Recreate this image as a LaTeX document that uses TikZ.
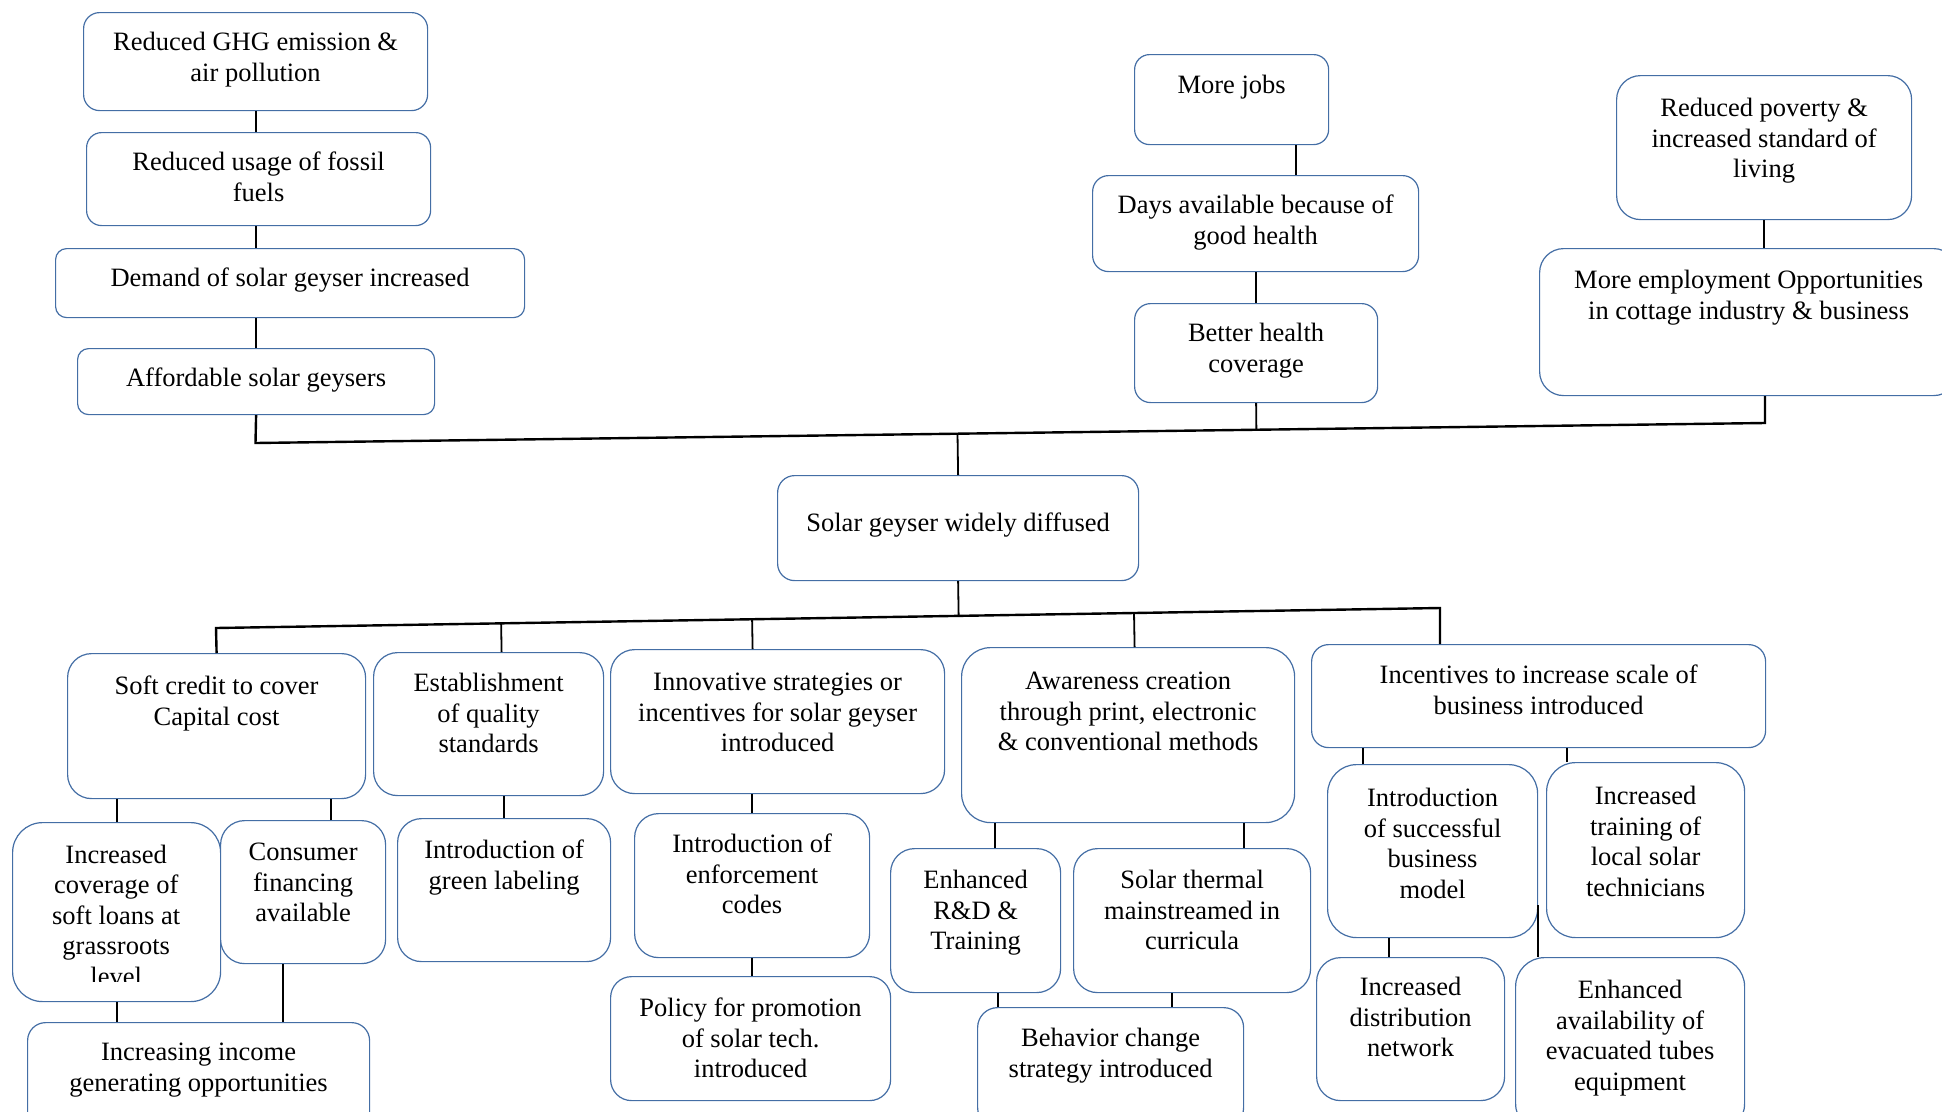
\documentclass[tikz,border=0pt]{standalone}
\usepackage{fontspec}
\setmainfont{Liberation Serif}
\usetikzlibrary{calc}
\definecolor{boxblue}{RGB}{68,110,165}
% box content: width, height, first-baseline offset, text (top aligned, centred)
\newcommand\bxt[4]{\parbox[t][#2pt][t]{#1pt}{\centering\rule{0pt}{#3pt}#4\par}}
\begin{document}
\begin{tikzpicture}[x=1pt,y=-1pt,
  every node/.style={font=\fontsize{26.5pt}{30.5pt}\selectfont},
  box/.style={draw=boxblue, line width=1.2pt, fill=white, inner sep=0pt, anchor=north west},
  txt/.style={inner sep=0pt, anchor=north west},
  link/.style={line width=1.8pt},
  trunk/.style={line width=2.4pt, line join=miter}]
\useasboundingbox (0,0) rectangle (1942,1111);

% outcomes (upper part)
\node[box, rounded corners=16pt] (ghg) at (83,12) {\bxt{344}{98}{38}{Reduced GHG emission \&\\air pollution}};
\node[box, rounded corners=15pt] (fossil) at (86,132) {\bxt{344}{93}{38}{Reduced usage of fossil\\fuels}};
\node[box, rounded corners=11pt] (demand) at (55,248) {\bxt{469}{69}{38}{Demand of solar geyser increased}};
\node[box, rounded corners=11pt] (afford) at (77,348) {\bxt{357}{66}{38}{Affordable solar geysers}};
\node[box, rounded corners=15pt] (jobs) at (1134,54) {\bxt{194}{90}{39}{More jobs}};
\node[box, rounded corners=16pt] (days) at (1092,175) {\bxt{326}{96}{38}{Days available because of\\good health}};
\node[box, rounded corners=16pt] (health) at (1134,303) {\bxt{243}{99}{38}{Better health\\coverage}};
\node[box, rounded corners=24pt] (poverty) at (1616,75) {\bxt{295}{144}{41}{Reduced poverty \&\\increased standard of\\living}};
\node[box, rounded corners=24pt] (employ) at (1539,248) {\bxt{418}{147}{40}{More employment Opportunities\\in cottage industry \& business}};

% central result
\node[box, rounded corners=17pt] (solar) at (777,475) {\bxt{361}{105}{56}{Solar geyser widely diffused}};

% first level of interventions
\node[box, rounded corners=24pt] (soft) at (67,653) {\bxt{298}{145}{41}{Soft credit to cover\\Capital cost}};
\node[box, rounded corners=24pt] (estab) at (373,652) {\bxt{230}{143}{39}{Establishment\\of quality\\standards}};
\node[box, rounded corners=24pt] (innov) at (610,649) {\bxt{334}{144}{41}{Innovative strategies or\\incentives for solar geyser\\introduced}};
\node[box, rounded corners=29pt] (aware) at (961,647) {\bxt{333}{175}{42}{Awareness creation\\through print, electronic\\\& conventional methods}};
\node[box, rounded corners=17pt] (incent) at (1311,644) {\bxt{454}{103}{39}{Incentives to increase scale of\\business introduced}};

% second and third levels
\node[box, rounded corners=30pt] (cov) at (12,822) {\bxt{208}{179}{41}{}};
\begin{scope}
  \clip (cov.north west) rectangle ([yshift=21pt]cov.south east);
  \node[txt] (covtext) at (cov.north west) {\bxt{208}{179}{41}{Increased\\coverage of\\soft loans at\\grassroots\\level}};
\end{scope}
\node[box, rounded corners=24pt] (cons) at (220,820) {\bxt{165}{143}{40}{Consumer\\financing\\available}};
\node[box, rounded corners=24pt] (green) at (397,818) {\bxt{213}{143}{40}{Introduction of\\green labeling}};
\node[box, rounded corners=18pt] (income) at (27,1022) {\bxt{342}{110}{38}{Increasing income\\generating opportunities}};
\node[box, rounded corners=24pt] (enforce) at (634,813) {\bxt{235}{144}{39}{Introduction of\\enforcement\\codes}};
\node[box, rounded corners=21pt] (policy) at (610,976) {\bxt{280}{124}{40}{Policy for promotion\\of solar tech.\\introduced}};
\node[box, rounded corners=24pt] (rnd) at (890,848) {\bxt{170}{144}{40}{Enhanced\\R\&D \&\\Training}};
\node[box, rounded corners=24pt] (thermal) at (1073,848) {\bxt{237}{144}{40}{Solar thermal\\mainstreamed in\\curricula}};
\node[box, rounded corners=20pt] (behav) at (977,1007) {\bxt{266}{120}{39}{Behavior change\\strategy introduced}};
\node[box, rounded corners=29pt] (succ) at (1327,764) {\bxt{210}{173}{42}{Introduction\\of successful\\business\\model}};
\node[box, rounded corners=29pt] (train) at (1546,762) {\bxt{198}{175}{42}{Increased\\training of\\local solar\\technicians}};
\node[box, rounded corners=24pt] (distr) at (1316,957) {\bxt{188}{143}{38}{Increased\\distribution\\network}};
\node[box, rounded corners=29pt] (avail) at (1515,957) {\bxt{229}{175}{41}{Enhanced\\availability of\\evacuated tubes\\equipment}};

% upper trunk
\coordinate (tl) at (255.5,443);
\coordinate (tr) at (1765,423);
\draw[trunk] (afford.south) -- (tl) -- (tr) -- (tr |- employ.south);
\draw[link] (health.south) -- ($(tl)!(health.south)!(tr)$);
\draw[link] (solar.north) -- ($(tl)!(solar.north)!(tr)$);

% upper chains
\coordinate (f1) at ([xshift=-3pt]fossil.south);
\coordinate (j1) at ([xshift=64pt]jobs.south);
\draw[link] (ghg.south) -- (ghg.south |- fossil.north);
\draw[link] (f1) -- (f1 |- demand.north);
\draw[link] (afford.north) -- (afford.north |- demand.south);
\draw[link] (j1) -- (j1 |- days.north);
\draw[link] (days.south) -- (days.south |- health.north);
\draw[link] (poverty.south) -- (poverty.south |- employ.north);

% lower trunk
\coordinate (bl) at (216,628);
\coordinate (br) at (1440,608);
\draw[trunk] (soft.north) -- (bl) -- (br) -- (br |- incent.north);
\draw[link] (solar.south) -- ($(bl)!(solar.south)!(br)$);
\coordinate (e1) at ([xshift=13pt]estab.north);
\coordinate (i1) at ([xshift=-25pt]innov.north);
\coordinate (a1) at ([xshift=6.5pt]aware.north);
\draw[link] (e1) -- ($(bl)!(e1)!(br)$);
\draw[link] (i1) -- ($(bl)!(i1)!(br)$);
\draw[link] (a1) -- ($(bl)!(a1)!(br)$);

% lower chains
\coordinate (c1) at ([xshift=27.5pt]cons.north);
\coordinate (c2) at ([xshift=-20pt]cons.south);
\coordinate (r1) at ([xshift=19pt]rnd.north);
\coordinate (t1) at ([xshift=51.5pt]thermal.north);
\coordinate (r2) at ([xshift=22pt]rnd.south);
\coordinate (t2) at ([xshift=-20pt]thermal.south);
\coordinate (s1) at ([xshift=-70pt]succ.north);
\coordinate (n1) at ([xshift=-79pt]train.north);
\coordinate (s2) at ([xshift=-44pt]succ.south);
\coordinate (s3) at ([yshift=33pt]succ.south east);
\draw[link] (cov.north) -- (cov.north |- soft.south);
\draw[link] (c1) -- (c1 |- soft.south);
\draw[link] (green.north) -- (green.north |- estab.south);
\draw[link] (cov.south) -- (cov.south |- income.north);
\draw[link] (c2) -- (c2 |- income.north);
\draw[link] (enforce.north) -- (enforce.north |- innov.south);
\draw[link] (enforce.south) -- (enforce.south |- policy.north);
\draw[link] (r1) -- (r1 |- aware.south);
\draw[link] (t1) -- (t1 |- aware.south);
\draw[link] (r2) -- (r2 |- behav.north);
\draw[link] (t2) -- (t2 |- behav.north);
\draw[link] (s1) -- (s1 |- incent.south);
\draw[link] (n1) -- (n1 |- incent.south);
\draw[link] (s2) -- (s2 |- distr.north);
\draw[link] (s3) -- (s3 |- avail.north);
\end{tikzpicture}
\end{document}
